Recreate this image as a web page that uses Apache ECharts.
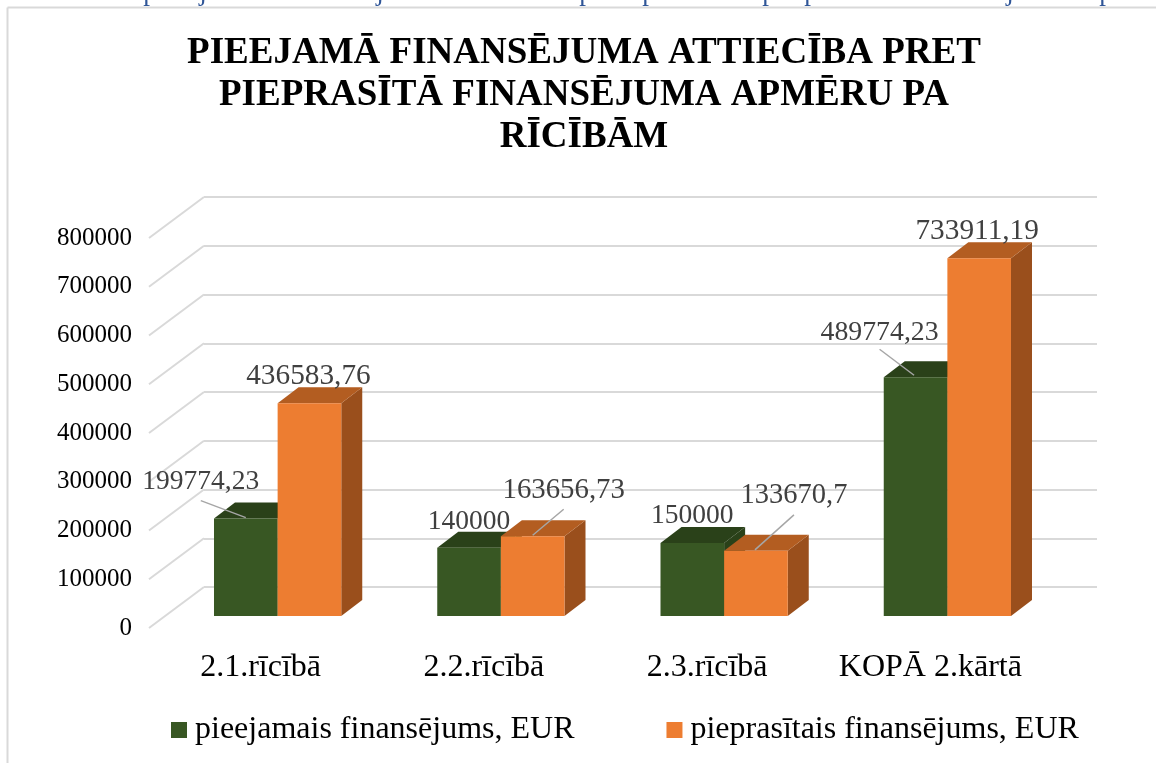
<!DOCTYPE html>
<html>
<head>
<meta charset="utf-8">
<title>Finansējums pa rīcībām</title>
<script src="https://cdn.jsdelivr.net/npm/echarts@6/dist/echarts.min.js"></script>
<style>
html, body { margin: 0; padding: 0; background: #fff; overflow: hidden; }
#chart { width: 1156px; height: 763px; }
</style>
</head>
<body>
<div id="chart"></div>
<script>
var categories = ['2.1.rīcībā', '2.2.rīcībā', '2.3.rīcībā', 'KOPĀ 2.kārtā'];
var seriesNames = ['pieejamais finansējums, EUR', 'pieprasītais finansējums, EUR'];
var available = [199774.23, 140000, 150000, 489774.23];
var requested = [436583.76, 163656.73, 133670.7, 733911.19];
var yTicks = [0, 100000, 200000, 300000, 400000, 500000, 600000, 700000, 800000];
var titleText = 'PIEEJAMĀ FINANSĒJUMA ATTIECĪBA PRET\nPIEPRASĪTĀ FINANSĒJUMA APMĒRU PA\nRĪCĪBĀM';

var FONT = '"Liberation Serif", serif';
var DEPTH_X = 21, DEPTH_Y = -16;

// skin colors for the fake 3d bars: front, top, side
var GREEN = ['#385723', '#2a4119', '#2a4119'];
var ORANGE = ['#ed7d31', '#b35d21', '#9a4f1c'];

// label offset from the bar's top front center, then optional leader line (same origin)
var labelPos = [
    [{dx: -45, dy: -37, size: 27.5, line: [-45, -18, 0, -1]}, {dx: 0, dy: -26, size: 27.5}, {dx: 0, dy: -27, size: 27.5}, {dx: -36, dy: -45, size: 27.8, line: [-36, -28, -1.5, -2]}],
    [{dx: -1, dy: -27, size: 29.3}, {dx: 31, dy: -46, size: 28.8, line: [31, -27, 0, -1]}, {dx: 38, dy: -55, size: 28.5, line: [38, -36, -1, -1]}, {dx: -2, dy: -27, size: 29.3}]
];

// bottoms of the line of document text cut off above the chart
var clippedGlyphs = [['p', 150], ['j', 203], ['j', 380], ['p', 586], ['p', 649], ['p', 769], ['p', 811], ['j', 1010], ['p', 1106]];

function barItem(colors, seriesIdx) {
    return function (params, api) {
        var i = api.value(0), v = api.value(1);
        var band = api.size([1, 0])[0];
        var w = band * 0.285;
        var base = api.coord([i, 0]);
        var top = api.coord([i, v]);
        var x0 = base[0] + (seriesIdx === 0 ? -w : 0);
        var x1 = x0 + w;
        var y0 = base[1], y1 = top[1];
        var children = [
            {type: 'polygon', shape: {points: [[x1, y0], [x1 + DEPTH_X, y0 + DEPTH_Y], [x1 + DEPTH_X, y1 + DEPTH_Y], [x1, y1]]}, style: {fill: colors[2]}},
            {type: 'polygon', shape: {points: [[x0, y1], [x1, y1], [x1 + DEPTH_X, y1 + DEPTH_Y], [x0 + DEPTH_X, y1 + DEPTH_Y]]}, style: {fill: colors[1]}},
            {type: 'rect', shape: {x: x0, y: y1, width: w, height: y0 - y1}, style: {fill: colors[0]}}
        ];
        return {type: 'group', children: children};
    };
}

function labelItem(seriesIdx) {
    return function (params, api) {
        var i = api.value(0), v = api.value(1);
        var band = api.size([1, 0])[0];
        var w = band * 0.285;
        var top = api.coord([i, v]);
        var cx = top[0] + (seriesIdx === 0 ? -w / 2 : w / 2);
        var p = labelPos[seriesIdx][i];
        var children = [];
        if (p.line) {
            children.push({type: 'line', shape: {x1: cx + p.line[0], y1: top[1] + p.line[1], x2: cx + p.line[2], y2: top[1] + p.line[3]},
                style: {stroke: '#a6a6a6', lineWidth: 1.5}});
        }
        children.push({type: 'text', style: {x: cx + p.dx, y: top[1] + p.dy, text: String(v).replace('.', ','),
            fill: '#404040', font: p.size + 'px ' + FONT, align: 'center', verticalAlign: 'middle'}});
        return {type: 'group', children: children};
    };
}

// floor and wall diagonals run from the front plane to the back wall
function diagonalItem(params, api) {
    var p = api.coord([0, api.value(0)]);
    var x = api.coord([0, 0])[0] - api.size([1, 0])[0] / 2;
    return {type: 'line', shape: {x1: x, y1: p[1], x2: x + 55, y2: p[1] - 41}, style: {stroke: '#d9d9d9', lineWidth: 2}};
}

function pairs(values) {
    return values.map(function (v, i) { return [i, v]; });
}

var graphics = [
    // chart frame, only the top and left edges are in the crop
    {type: 'line', shape: {x1: 7.5, y1: 7.5, x2: 1156, y2: 7.5}, style: {stroke: '#d9d9d9', lineWidth: 2}},
    {type: 'line', shape: {x1: 7.5, y1: 7.5, x2: 7.5, y2: 763}, style: {stroke: '#d9d9d9', lineWidth: 2}}
];
clippedGlyphs.forEach(function (g) {
    graphics.push({type: 'text', x: g[1], y: -7, style: {text: g[0], fill: '#2f5597', font: '27px ' + FONT, align: 'center', verticalAlign: 'middle'}});
});

var chart = echarts.init(document.getElementById('chart'), null, {renderer: 'canvas'});
chart.setOption({
    animation: false,
    textStyle: {fontFamily: FONT},
    title: {
        text: titleText,
        left: 579,
        top: 27,
        textAlign: 'center',
        textStyle: {fontFamily: FONT, fontSize: 37, fontWeight: 'bold', color: '#000', lineHeight: 42}
    },
    legend: {
        left: 166,
        top: 709,
        itemWidth: 16,
        itemHeight: 16,
        itemGap: 92,
        icon: 'rect',
        data: [
            {name: seriesNames[0], itemStyle: {color: GREEN[0]}},
            {name: seriesNames[1], itemStyle: {color: ORANGE[0]}}
        ],
        textStyle: {fontFamily: FONT, fontSize: 32, color: '#000', padding: [0, 0, 0, 3]}
    },
    grid: [
        // bars
        {left: 166, top: 226, width: 893, height: 390},
        // back wall
        {left: 204, top: 197, width: 893, height: 390},
        // front plane, holds the tick labels
        {left: 149, top: 238, width: 893, height: 390}
    ],
    xAxis: [
        {gridIndex: 0, type: 'category', data: categories, show: false},
        {gridIndex: 1, type: 'category', data: categories, show: false},
        {gridIndex: 2, type: 'category', data: categories, axisLine: {show: false}, axisTick: {show: false},
            axisLabel: {margin: 24, fontFamily: FONT, fontSize: 32, color: '#000', interval: 0}}
    ],
    yAxis: [
        {gridIndex: 0, type: 'value', min: 0, max: 800000, interval: 100000, show: false},
        {gridIndex: 1, type: 'value', min: 0, max: 800000, interval: 100000, axisLine: {show: false}, axisTick: {show: false},
            axisLabel: {show: false}, splitLine: {show: true, lineStyle: {color: '#d9d9d9', width: 2}}},
        {gridIndex: 2, type: 'value', min: 0, max: 800000, interval: 100000, axisLine: {show: false}, axisTick: {show: false},
            splitLine: {show: false}, axisLabel: {margin: 17, fontFamily: FONT, fontSize: 25, color: '#000', padding: [6, 0, 0, 0],
                formatter: function (v) { return String(v); }}}
    ],
    series: [
        {type: 'custom', name: 'diagonals', xAxisIndex: 2, yAxisIndex: 2, renderItem: diagonalItem, silent: true,
            data: yTicks, encode: {y: 0}, z: 1},
        {type: 'custom', name: seriesNames[0], xAxisIndex: 0, yAxisIndex: 0, renderItem: barItem(GREEN, 0),
            data: pairs(available), encode: {x: 0, y: 1}, z: 2},
        {type: 'custom', name: seriesNames[1], xAxisIndex: 0, yAxisIndex: 0, renderItem: barItem(ORANGE, 1),
            data: pairs(requested), encode: {x: 0, y: 1}, z: 3},
        {type: 'custom', name: 'labels0', xAxisIndex: 0, yAxisIndex: 0, renderItem: labelItem(0), silent: true,
            data: pairs(available), encode: {x: 0, y: 1}, z: 4},
        {type: 'custom', name: 'labels1', xAxisIndex: 0, yAxisIndex: 0, renderItem: labelItem(1), silent: true,
            data: pairs(requested), encode: {x: 0, y: 1}, z: 4}
    ],
    graphic: graphics
});
</script>
</body>
</html>
